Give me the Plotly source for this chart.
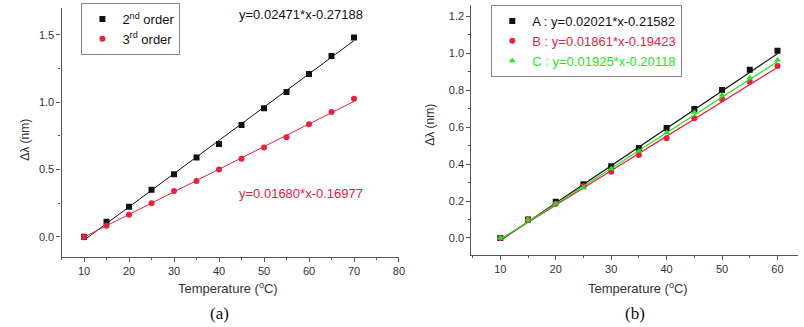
import plotly.graph_objects as go
import numpy as np

# ---- data panel (a)
temp_a = [10, 15, 20, 25, 30, 35, 40, 45, 50, 55, 60, 65, 70]
order2 = [0.0, 0.112, 0.224, 0.35, 0.465, 0.59, 0.69, 0.83, 0.955, 1.075, 1.21, 1.343, 1.48]
order3 = [0.0, 0.082, 0.164, 0.25, 0.34, 0.415, 0.50, 0.58, 0.664, 0.74, 0.836, 0.928, 1.025]
fit_a_slope = [0.02471, 0.01680]
fit_a_icpt = [-0.27188, -0.16977]

# ---- data panel (b)
temp_b = [10, 15, 20, 25, 30, 35, 40, 45, 50, 55, 60]
ser_A = [0.0, 0.1, 0.196, 0.29, 0.388, 0.486, 0.595, 0.697, 0.80, 0.91, 1.012]
ser_B = [0.0, 0.1, 0.185, 0.28, 0.358, 0.449, 0.54, 0.647, 0.75, 0.845, 0.93]
ser_C = [0.0, 0.1, 0.185, 0.27, 0.375, 0.47, 0.57, 0.68, 0.773, 0.866, 0.962]
fit_b_slope = [0.02021, 0.01861, 0.01925]
fit_b_icpt = [-0.21582, -0.19423, -0.20118]

BLACK = "#111111"
RED = "#e8213f"
GREEN = "#1ee61e"
AX = "#555555"
W, H = 804, 327
SANS = "Liberation Sans, Arial, sans-serif"

fig = go.Figure()

def fitline(xs, m, b):
    x = np.array([xs[0], xs[-1]], dtype=float)
    return x, m * x + b

# panel a
for ys, m, b, col, sym, nm in [
    (order2, fit_a_slope[0], fit_a_icpt[0], BLACK, "square", "2<sup>nd</sup> order"),
    (order3, fit_a_slope[1], fit_a_icpt[1], RED, "circle", "3<sup>rd</sup> order"),
]:
    lx, ly = fitline(temp_a, m, b)
    fig.add_trace(go.Scatter(x=lx, y=ly, mode="lines", line=dict(color=col, width=1),
                             showlegend=False, xaxis="x", yaxis="y"))
    fig.add_trace(go.Scatter(x=temp_a, y=ys, mode="markers", name=nm,
                             marker=dict(color=col, symbol=sym, size=6),
                             xaxis="x", yaxis="y", legend="legend"))

# panel b
for ys, m, b, col, sym, nm in [
    (ser_A, fit_b_slope[0], fit_b_icpt[0], BLACK, "square", "A : y=0.02021*x-0.21582"),
    (ser_B, fit_b_slope[1], fit_b_icpt[1], RED, "circle", "B : y=0.01861*x-0.19423"),
    (ser_C, fit_b_slope[2], fit_b_icpt[2], GREEN, "triangle-up", "C : y=0.01925*x-0.20118"),
]:
    lx, ly = fitline(temp_b, m, b)
    fig.add_trace(go.Scatter(x=lx, y=ly, mode="lines", line=dict(color=col, width=1.2),
                             showlegend=False, xaxis="x2", yaxis="y2"))
    fig.add_trace(go.Scatter(x=temp_b, y=ys, mode="markers",
                             name=f"<span style='color:{col}'>{nm}</span>",
                             marker=dict(color=col, symbol=sym, size=6),
                             xaxis="x2", yaxis="y2", legend="legend2"))

def px_x(p):
    return p / W

def px_y(p):
    return 1 - p / H

tickfont = dict(family=SANS, size=11, color="#333333")
axcommon = dict(showgrid=False, zeroline=False, showline=True, linecolor=AX, linewidth=1.2,
                ticks="outside", ticklen=4, tickcolor=AX, tickfont=tickfont, mirror=False)

fig.update_layout(
    width=W, height=H,
    margin=dict(l=0, r=0, t=0, b=0),
    paper_bgcolor="white", plot_bgcolor="white",
    font=dict(family=SANS, size=13, color="#333333"),
    xaxis=dict(domain=[px_x(62), px_x(402)], range=[5, 80], dtick=10, tick0=0,
               anchor="y", minor=dict(dtick=5, ticklen=2, ticks="outside", tickcolor=AX), **axcommon),
    yaxis=dict(domain=[px_y(257), px_y(8)], range=[-0.15, 1.7], dtick=0.5, tick0=0,
               tickformat=".1f", anchor="x",
               minor=dict(dtick=0.25, ticklen=2, ticks="outside", tickcolor=AX), **axcommon),
    xaxis2=dict(domain=[px_x(475), 1.0], range=[4.8, 63.7], dtick=10, tick0=0,
                anchor="y2", minor=dict(dtick=5, ticklen=2, ticks="outside", tickcolor=AX), **axcommon),
    yaxis2=dict(domain=[px_y(255), px_y(5)], range=[-0.092, 1.26], dtick=0.2, tick0=0,
                tickformat=".1f", anchor="x2",
                minor=dict(dtick=0.1, ticklen=2, ticks="outside", tickcolor=AX), **axcommon),
    legend=dict(x=px_x(82), y=px_y(3), xanchor="left", yanchor="top",
                bordercolor="#888888", borderwidth=1, bgcolor="white",
                font=dict(family=SANS, size=13, color=BLACK),
                tracegroupgap=0, itemwidth=30),
    legend2=dict(x=px_x(495), y=px_y(5), xanchor="left", yanchor="top",
                 bordercolor="#888888", borderwidth=1, bgcolor="white",
                 font=dict(family=SANS, size=13, color=BLACK),
                 tracegroupgap=0, itemwidth=30),
)

ann = [
    dict(x=px_x(303), y=px_y(15), text="y=0.02471*x-0.27188", font=dict(family=SANS, size=13, color=BLACK)),
    dict(x=px_x(303), y=px_y(193), text="y=0.01680*x-0.16977", font=dict(family=SANS, size=13, color=RED)),
    dict(x=px_x(25), y=px_y(140), text="Δλ (nm)", textangle=-90, font=dict(family=SANS, size=12, color="#333333")),
    dict(x=px_x(433), y=px_y(125), text="Δλ (nm)", textangle=-90, font=dict(family=SANS, size=12, color="#333333")),
    dict(x=px_x(230), y=px_y(288), text="Temperature (<sup>o</sup>C)", font=dict(family=SANS, size=13, color="#333333")),
    dict(x=px_x(643), y=px_y(288), text="Temperature (<sup>o</sup>C)", font=dict(family=SANS, size=13, color="#333333")),
    dict(x=px_x(221), y=px_y(313), text="(a)", font=dict(family="Liberation Serif, Times New Roman, serif", size=17, color=BLACK)),
    dict(x=px_x(640), y=px_y(313), text="(b)", font=dict(family="Liberation Serif, Times New Roman, serif", size=17, color=BLACK)),
]
for a in ann:
    a.update(xref="paper", yref="paper", showarrow=False, xanchor="center", yanchor="middle")
fig.update_layout(annotations=ann)

fig.write_html("out.html", config={"displayModeBar": False},
               post_script="document.body.style.margin='0';document.body.style.overflow='hidden';")
